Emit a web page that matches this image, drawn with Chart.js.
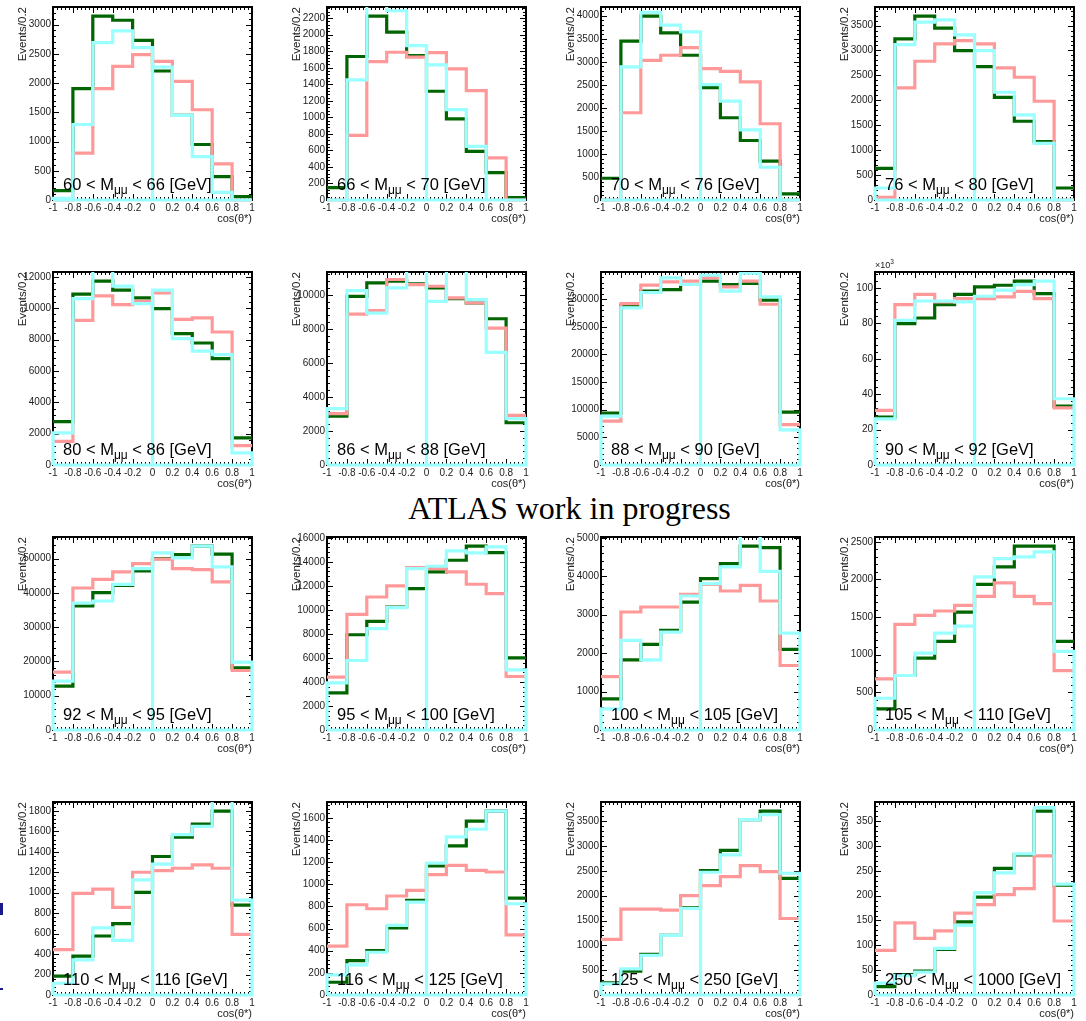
<!DOCTYPE html>
<html>
<head>
<meta charset="utf-8">
<script src="https://cdn.jsdelivr.net/npm/chart.js@4.4.1/dist/chart.umd.min.js"></script>
<style>
html,body{margin:0;padding:0;background:#fff;}
#wrap{position:relative;width:1086px;height:1021px;overflow:hidden;background:#fff;}
#wrap canvas{position:absolute;}
#atlas{position:absolute;left:369.5px;width:400px;top:492px;text-align:center;font-family:"Liberation Serif","Times New Roman",serif;font-size:32px;line-height:32px;color:#000;white-space:nowrap;}
.mark{position:absolute;left:0;background:#1a1a8a;}
</style>
</head>
<body>
<div id="wrap">
  <div id="atlas">ATLAS work in progress</div>
  <div class="mark" style="top:903px;width:3px;height:12px;"></div>
  <div class="mark" style="top:988px;width:3px;height:2px;"></div>
</div>
<script>
// ---------------- data ----------------
const binEdges = [-1, -0.8, -0.6, -0.4, -0.2, 0, 0.2, 0.4, 0.6, 0.8, 1];
const xTickLabels = ['-1', '-0.8', '-0.6', '-0.4', '-0.2', '0', '0.2', '0.4', '0.6', '0.8', '1'];
const massLow  = [60, 66, 70, 76, 80, 86, 88, 90, 92, 95, 100, 105, 110, 116, 125, 250];
const massHigh = [66, 70, 76, 80, 86, 88, 90, 92, 95, 100, 105, 110, 116, 125, 250, 1000];
const yTickStep = [500, 200, 500, 500, 2000, 2000, 5000, 20000, 10000, 2000, 1000, 500, 200, 200, 500, 50];
const yLabelDivisor = [1, 1, 1, 1, 1, 1, 1, 1000, 1, 1, 1, 1, 1, 1, 1, 1];

const greenCounts = [
  [160, 1903, 3143, 3074, 2731, 2206, 1446, 949, 400, 57],
  [150, 1736, 2224, 2030, 1748, 1316, 981, 589, 331, 28],
  [472, 3447, 3990, 3628, 3142, 2438, 1785, 1292, 842, 131],
  [636, 3233, 3688, 3447, 2998, 2677, 2061, 1580, 1171, 241],
  [2771, 10891, 11722, 11147, 10657, 9975, 8376, 7779, 6778, 1726],
  [2877, 9911, 10700, 10798, 10640, 10404, 9773, 9517, 8591, 2483],
  [9371, 28900, 31440, 31740, 32650, 33250, 32650, 32830, 29810, 9550],
  [27000, 79800, 83000, 90600, 96400, 100600, 101500, 103800, 96800, 33200],
  [12770, 36160, 40060, 42200, 46390, 50000, 51170, 53610, 51270, 18130],
  [3088, 7930, 9043, 10240, 11770, 13160, 14130, 15300, 14770, 6010],
  [809, 1826, 2226, 2591, 3330, 3939, 4330, 4783, 4748, 2096],
  [280, 724, 955, 1177, 1567, 1936, 2167, 2442, 2442, 1177],
  [184, 380, 577, 698, 1003, 1354, 1544, 1672, 1797, 879],
  [115, 311, 402, 607, 854, 1165, 1346, 1570, 1660, 875],
  [243, 480, 818, 1203, 1757, 2507, 2912, 3534, 3703, 2351],
  [17, 41, 48, 92, 147, 197, 255, 282, 370, 221]
];
const pinkCounts = [
  [0, 800, 1903, 2286, 2486, 2371, 2029, 1543, 617, 0],
  [0, 783, 1675, 1788, 1728, 1784, 1587, 1324, 509, 0],
  [0, 1894, 3033, 3142, 3309, 2852, 2794, 2562, 1655, 0],
  [54, 2249, 2784, 3132, 3199, 3132, 2650, 2463, 1981, 0],
  [1513, 9229, 10785, 10230, 10443, 10976, 9292, 9378, 8483, 1236],
  [3015, 8867, 9064, 10897, 10601, 10502, 9813, 9517, 8039, 2916],
  [7920, 29200, 32530, 33130, 33250, 33860, 32220, 33250, 29080, 7315],
  [30800, 90600, 96400, 92100, 94000, 94000, 94900, 98100, 94000, 32300],
  [16860, 41420, 43960, 46100, 48540, 49810, 47080, 46780, 43180, 17350],
  [4396, 9627, 11070, 11990, 13520, 13440, 13160, 12130, 11350, 4452],
  [1391, 3070, 3200, 3200, 3530, 3791, 3617, 3765, 3357, 1678],
  [679, 1403, 1523, 1581, 1656, 1776, 1954, 1776, 1679, 790],
  [443, 993, 1036, 856, 1200, 1216, 1239, 1272, 1239, 593],
  [441, 815, 779, 894, 945, 1087, 1171, 1126, 1111, 543],
  [1122, 1730, 1730, 1709, 2000, 2203, 2385, 2608, 2486, 1541],
  [90, 145, 114, 129, 165, 182, 202, 214, 280, 149]
];
const cyanCounts = [
  [30, 1291, 2691, 2891, 2606, 2274, 1446, 743, 131, 0],
  [0, 1453, 2400, 2290, 1869, 1635, 1094, 650, 0, 0],
  [0, 2888, 4071, 3795, 3650, 2504, 2148, 1524, 711, 0],
  [241, 3119, 3567, 3614, 3313, 2998, 2162, 1707, 1138, 0],
  [2046, 10614, 12600, 11402, 10294, 11147, 8056, 7268, 7033, 767],
  [3310, 10246, 8926, 10404, 11600, 9616, 11600, 9714, 6621, 2719],
  [8827, 28420, 31200, 33860, 32650, 34340, 31440, 34700, 30410, 6348],
  [26000, 81700, 92600, 92500, 92100, 95300, 98700, 101900, 103800, 37400],
  [14230, 37040, 37620, 42500, 47080, 51660, 50190, 53610, 47560, 19790],
  [3923, 5787, 8431, 10180, 13440, 13630, 14910, 14750, 15250, 5008],
  [548, 2330, 1826, 2548, 3487, 3809, 4243, 5150, 4130, 2522],
  [422, 724, 1021, 1288, 1381, 2034, 2278, 2300, 2367, 1044],
  [115, 344, 656, 534, 1125, 1279, 1567, 1649, 1950, 928],
  [181, 272, 386, 628, 839, 1192, 1428, 1497, 1660, 824],
  [223, 527, 797, 1203, 1743, 2473, 2824, 3534, 3635, 2453],
  [24, 39, 46, 94, 140, 206, 246, 284, 377, 223]
];

// ---------------- helpers ----------------
const FONT = '"Liberation Sans", Arial, Helvetica, sans-serif';

function stepPoints(vals) {
  const pts = [];
  for (let i = 0; i < vals.length; i++) pts.push({x: binEdges[i], y: vals[i]});
  pts.push({x: binEdges[binEdges.length - 1], y: vals[vals.length - 1]});
  return pts;
}
// closed outline with an empty split at cos=0 (as drawn in the reference)
function splitClosedPoints(vals) {
  const pts = [{x: binEdges[0], y: 0}];
  for (let i = 0; i < vals.length; i++) {
    if (binEdges[i] === 0) pts.push({x: 0, y: 0});
    pts.push({x: binEdges[i], y: vals[i]});
  }
  const last = binEdges[binEdges.length - 1];
  pts.push({x: last, y: vals[vals.length - 1]});
  pts.push({x: last, y: 0});
  pts.push({x: binEdges[0], y: 0});
  return pts;
}

const frameTicks = {
  id: 'frameTicks',
  beforeDatasetsDraw(chart, args, opts) {
    const {ctx, chartArea: a, scales: {x, y}} = chart;
    ctx.save();
    ctx.strokeStyle = '#000';
    ctx.lineWidth = 1;
    ctx.beginPath();
    const xMinor = 0.04;
    const nx = Math.round((x.max - x.min) / xMinor);
    for (let i = 0; i <= nx; i++) {
      const v = x.min + i * xMinor;
      const px = Math.round(x.getPixelForValue(v)) + 0.5;
      const len = (i % 5 === 0) ? 6 : 3;
      ctx.moveTo(px, a.bottom); ctx.lineTo(px, a.bottom - len);
      ctx.moveTo(px, a.top); ctx.lineTo(px, a.top + len);
    }
    const yMinor = opts.step / 5;
    const ny = Math.floor(y.max / yMinor + 1e-9);
    for (let i = 0; i <= ny; i++) {
      const py = Math.round(y.getPixelForValue(i * yMinor)) + 0.5;
      const len = (i % 5 === 0) ? 6 : 3;
      ctx.moveTo(a.left, py); ctx.lineTo(a.left + len, py);
      ctx.moveTo(a.right, py); ctx.lineTo(a.right - len, py);
    }
    ctx.stroke();
    ctx.lineWidth = 2;
    ctx.strokeRect(a.left, a.top, a.right - a.left, a.bottom - a.top);
    ctx.restore();
  }
};

const panelLabel = {
  id: 'panelLabel',
  afterDraw(chart, args, opts) {
    const {ctx, chartArea: a} = chart;
    ctx.save();
    ctx.fillStyle = '#000';
    ctx.textBaseline = 'alphabetic';
    ctx.textAlign = 'left';
    let x = a.left + 10;
    const y = a.bottom - 10;
    ctx.font = '16.5px ' + FONT;
    const t1 = opts.lo + ' < M';
    ctx.fillText(t1, x, y); x += ctx.measureText(t1).width;
    ctx.font = '12px ' + FONT;
    ctx.fillText('\u03bc\u03bc', x, y + 4); x += ctx.measureText('\u03bc\u03bc').width;
    ctx.font = '16.5px ' + FONT;
    ctx.fillText(' < ' + opts.hi + ' [GeV]', x, y);
    if (opts.exp) {
      ctx.fillStyle = '#222';
      ctx.font = '9px ' + FONT;
      ctx.fillText('\u00d710', a.left, a.top - 4);
      const w = ctx.measureText('\u00d710').width;
      ctx.font = '6.5px ' + FONT;
      ctx.fillText(String(Math.round(Math.log10(opts.exp))), a.left + w, a.top - 8);
    }
    ctx.restore();
  }
};

const wrap = document.getElementById('wrap');
const CW = 274, CH = 265, EXTRA_TOP = 12;

for (let p = 0; p < 16; p++) {
  const col = p % 4, row = Math.floor(p / 4);
  const cv = document.createElement('canvas');
  cv.width = CW; cv.height = CH + EXTRA_TOP;
  cv.style.left = (col * CW) + 'px';
  cv.style.top = (row * CH - EXTRA_TOP) + 'px';
  cv.style.width = CW + 'px'; cv.style.height = (CH + EXTRA_TOP) + 'px';
  wrap.appendChild(cv);

  const yMax = 1.05 * Math.max(...greenCounts[p]);
  const step = yTickStep[p];
  const div = yLabelDivisor[p];
  const clip = {left: 3, right: 3, top: 0, bottom: 3};

  new Chart(cv, {
    type: 'line',
    data: {
      datasets: [
        {data: splitClosedPoints(cyanCounts[p]), borderColor: '#99ffff', borderWidth: 3.2, stepped: true, clip},
        {data: stepPoints(pinkCounts[p]), borderColor: '#ff9999', borderWidth: 3.2, stepped: true, clip},
        {data: stepPoints(greenCounts[p]), borderColor: '#006400', borderWidth: 3.2, stepped: true, clip}
      ]
    },
    options: {
      responsive: false,
      animation: false,
      devicePixelRatio: 1,
      layout: {padding: {left: 0, right: 22, top: 7 + EXTRA_TOP, bottom: 37}},
      elements: {point: {radius: 0}, line: {tension: 0, fill: false, borderCapStyle: 'butt', borderJoinStyle: 'miter'}},
      plugins: {
        legend: {display: false},
        tooltip: {enabled: false},
        frameTicks: {step},
        panelLabel: {lo: massLow[p], hi: massHigh[p], exp: div > 1 ? div : 0}
      },
      scales: {
        x: {
          type: 'linear', min: -1, max: 1,
          afterFit: s => { s.height = 28; },
          afterBuildTicks: s => { s.ticks = binEdges.map(v => ({value: v})); },
          grid: {display: false, drawTicks: false},
          border: {display: false},
          ticks: {
            autoSkip: false, maxRotation: 0, minRotation: 0, padding: 2,
            color: '#222', font: {family: FONT, size: 10},
            callback: (v, i) => xTickLabels[i]
          },
          title: {display: true, text: 'cos(\u03b8*)', align: 'end', color: '#222',
                  font: {family: FONT, size: 11}, padding: {top: 0, bottom: 2}}
        },
        y: {
          type: 'linear', min: 0, max: yMax,
          afterFit: s => { s.width = 53; },
          afterBuildTicks: s => {
            const t = [];
            for (let k = 0; k * step <= s.max; k++) t.push({value: k * step});
            s.ticks = t;
          },
          grid: {display: false, drawTicks: false},
          border: {display: false},
          ticks: {
            autoSkip: false, padding: 2,
            color: '#222', font: {family: FONT, size: 10},
            callback: v => String(Math.round(v / div))
          },
          title: {display: true, text: 'Events/0.2', align: 'end', color: '#222',
                  font: {family: FONT, size: 11.5}, padding: {top: 16.1, bottom: 0}}
        }
      }
    },
    plugins: [frameTicks, panelLabel]
  });
}
</script>
</body>
</html>
